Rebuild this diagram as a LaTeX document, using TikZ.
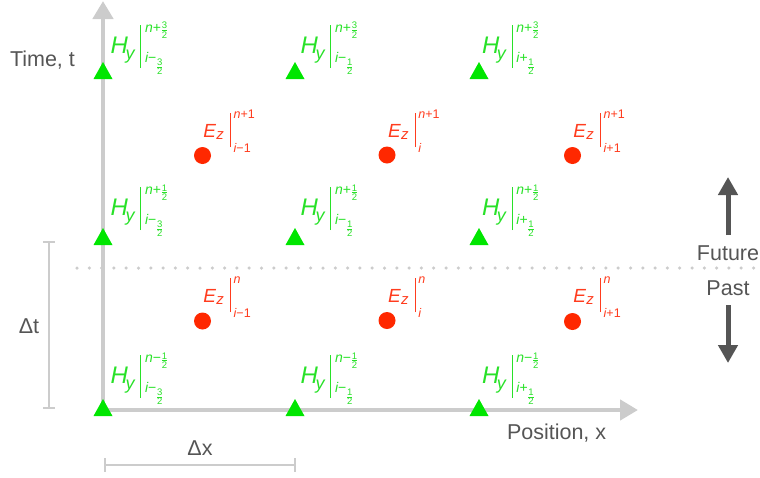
\documentclass[tikz,border=0pt]{standalone}
\usepackage{fontspec}
\setmainfont{Liberation Sans}
\usetikzlibrary{arrows.meta}
\definecolor{axisgray}{HTML}{CCCCCC}
\definecolor{txtgray}{HTML}{555555}
\definecolor{hgreen}{RGB}{0,230,0}
\definecolor{htext}{RGB}{40,225,40}
\definecolor{ered}{RGB}{255,40,0}
\definecolor{etext}{RGB}{255,60,30}
\newcommand\fr[2]{\raisebox{#2}{\vbox{\offinterlineskip\halign{\hfil##\hfil\cr\fontsize{9.5}{9.5}\selectfont #1\cr\noalign{\kern1pt\hrule height0.6pt\kern1pt}\fontsize{9.5}{9.5}\selectfont 2\cr}}}}
\newcommand\hsup[2]{{\itshape n}#1\kern0.8pt\fr{#2}{-6.3pt}}
\newcommand\hsub[2]{{\itshape i}#1\kern0.8pt\fr{#2}{-12.9pt}}
\newcommand\Hlab[2]{\makebox[29.5pt][l]{\fontsize{24}{24}\selectfont\itshape H\kern-2.5pt\raisebox{-6pt}{\fontsize{18}{18}\selectfont y}}\rule[-15pt]{0.9pt}{43pt}\kern4pt\rlap{\raisebox{21pt}{\fontsize{14}{14}\selectfont #1}}\raisebox{-9pt}{\fontsize{14}{14}\selectfont #2}}
\newcommand\Elab[2]{\makebox[26.5pt][l]{\fontsize{19}{19}\selectfont\itshape E\kern0.5pt\raisebox{-2pt}{\fontsize{15}{15}\selectfont z}}\rule[-10pt]{0.9pt}{34pt}\kern3pt\rlap{\raisebox{19pt}{\fontsize{12.5}{12.5}\selectfont #1}}\raisebox{-15pt}{\fontsize{12.5}{12.5}\selectfont #2}}
\newcommand\tri[2]{\fill[hgreen] (#1-9.5,#2+8) -- (#1+9.5,#2+8) -- (#1,#2-9) -- cycle;}
\begin{document}
\begin{tikzpicture}[x=1pt,y=-1pt,
  lbl/.style={inner sep=0pt, outer sep=0pt, text=#1, anchor=base west},
  gtxt/.style={inner sep=0pt, outer sep=0pt, text=txtgray, font=\fontsize{21.5}{24}\selectfont},
  axisline/.style={draw=axisgray, line width=4.5pt, -{Triangle[width=20pt,length=18pt]}},
  tarrow/.style={draw=txtgray, line width=5pt, -{Triangle[width=19pt,length=18pt]}},
  bracket/.style={draw=axisgray, line width=2.5pt},
  dotline/.style={draw=axisgray, line width=3.5pt, line cap=round, dash pattern=on 0pt off 12.3pt},
  edot/.style={circle, fill=ered, minimum size=17pt, inner sep=0pt}]
\useasboundingbox (0,0) rectangle (760,477);
% axes
\coordinate (O) at (103,410);
\coordinate (ytop) at (103,1);
\coordinate (xend) at (638,410);
\draw[axisline] (O) -- (ytop);
\draw[axisline] (O) -- (xend);
% dotted now-line
\coordinate (d1) at (77,268);
\coordinate (d2) at (760,268);
\draw[dotline] (d1) -- (d2);
% Delta t bracket
\coordinate (t1) at (49,242); \coordinate (t2) at (49,408);
\coordinate (t1a) at (43,242); \coordinate (t1b) at (55,242);
\coordinate (t2a) at (43,408); \coordinate (t2b) at (55,408);
\draw[bracket] (t1) -- (t2);
\draw[bracket] (t1a) -- (t1b);
\draw[bracket] (t2a) -- (t2b);
\node[gtxt, anchor=base] (dt) at (29,333) {Δt};
% Delta x bracket
\coordinate (x1) at (105,465); \coordinate (x2) at (295,465);
\coordinate (x1a) at (105,458); \coordinate (x1b) at (105,472);
\coordinate (x2a) at (295,458); \coordinate (x2b) at (295,472);
\draw[bracket] (x1) -- (x2);
\draw[bracket] (x1a) -- (x1b);
\draw[bracket] (x2a) -- (x2b);
\node[gtxt, anchor=base] (dx) at (200,455) {Δx};
% axis labels
\node[gtxt, anchor=base west] (tl) at (10,66) {Time, t};
\node[gtxt, anchor=base west] (xl) at (507,439) {Position, x};
% future / past
\node[gtxt, anchor=base] (fut) at (728,260) {Future};
\node[gtxt, anchor=base] (pst) at (728,295) {Past};
\coordinate (fa1) at (728,235); \coordinate (fa2) at (728,177);
\coordinate (pa1) at (728,305); \coordinate (pa2) at (728,363);
\draw[tarrow] (fa1) -- (fa2);
\draw[tarrow] (pa1) -- (pa2);
% H triangles
\foreach \xx in {103,295,479}{\foreach \yy in {71,237,408}{\tri{\xx}{\yy}}}
% E circles
\node[edot] (e11) at (202.5,155.5) {};
\node[edot] (e12) at (387,155) {};
\node[edot] (e13) at (572.5,155.5) {};
\node[edot] (e21) at (202.5,321) {};
\node[edot] (e22) at (387,320.5) {};
\node[edot] (e23) at (572.5,321.5) {};
% H labels
\node[lbl=htext] (h11) at (110.7,53) {\Hlab{\hsup{+}{3}}{\hsub{−}{3}}};
\node[lbl=htext] (h12) at (300.7,53) {\Hlab{\hsup{+}{3}}{\hsub{−}{1}}};
\node[lbl=htext] (h13) at (482,53) {\Hlab{\hsup{+}{3}}{\hsub{+}{1}}};
\node[lbl=htext] (h21) at (110.7,215) {\Hlab{\hsup{+}{1}}{\hsub{−}{3}}};
\node[lbl=htext] (h22) at (300.7,215) {\Hlab{\hsup{+}{1}}{\hsub{−}{1}}};
\node[lbl=htext] (h23) at (482,215) {\Hlab{\hsup{+}{1}}{\hsub{+}{1}}};
\node[lbl=htext] (h31) at (110.7,383) {\Hlab{\hsup{−}{1}}{\hsub{−}{3}}};
\node[lbl=htext] (h32) at (300.7,383) {\Hlab{\hsup{−}{1}}{\hsub{−}{1}}};
\node[lbl=htext] (h33) at (482,383) {\Hlab{\hsup{−}{1}}{\hsub{+}{1}}};
% E labels
\node[lbl=etext] (l11) at (203.3,137) {\Elab{{\itshape n}+1}{{\itshape i}−1}};
\node[lbl=etext] (l12) at (388,137) {\Elab{{\itshape n}+1}{{\itshape i}}};
\node[lbl=etext] (l13) at (573.3,137) {\Elab{{\itshape n}+1}{{\itshape i}+1}};
\node[lbl=etext] (l21) at (203.3,302) {\Elab{{\itshape n}}{{\itshape i}−1}};
\node[lbl=etext] (l22) at (388,302) {\Elab{{\itshape n}}{{\itshape i}}};
\node[lbl=etext] (l23) at (573.3,302) {\Elab{{\itshape n}}{{\itshape i}+1}};
\end{tikzpicture}
\end{document}
